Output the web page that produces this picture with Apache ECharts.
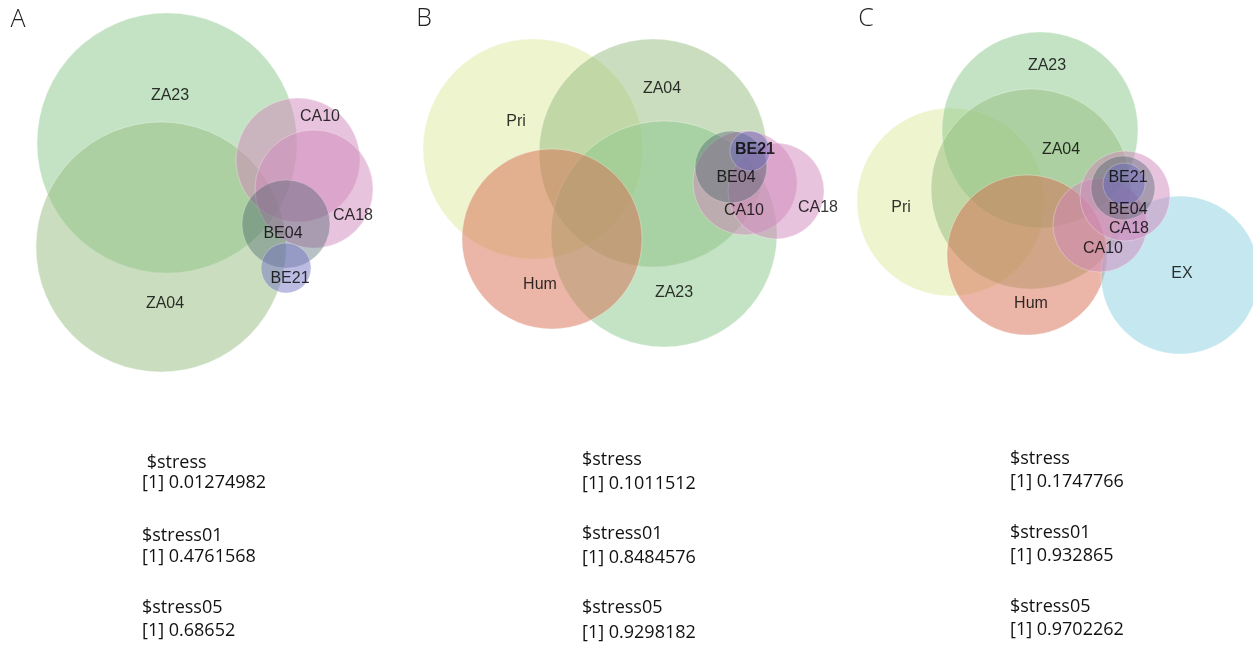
<!DOCTYPE html>
<html>
<head>
<meta charset="utf-8">
<script src="https://cdn.jsdelivr.net/npm/echarts@6/dist/echarts.min.js"></script>
<style>html,body{margin:0;padding:0;background:#fff;}#main{width:1253px;height:646px;}</style>
</head>
<body>
<div id="main"></div>
<script>
// Panel A circles (chart units = pixel grid of the figure)
const setsA = ['ZA23', 'ZA04', 'CA10', 'CA18', 'BE04', 'BE21'];
const cxA = [167, 161, 298, 314, 286, 286];
const cyA = [143, 247, 160, 189, 224, 268];
const rA = [130, 125, 62, 59, 44, 25];
const labXA = [170, 165, 320, 353, 283, 290];
const labYA = [96, 304, 117, 216, 234, 279];

// Panel B circles
const setsB = ['Pri', 'ZA04', 'ZA23', 'Hum', 'CA10', 'CA18', 'BE04', 'BE21'];
const cxB = [533, 653, 664, 552, 745, 776, 731, 750];
const cyB = [149, 153, 234, 239, 183, 191, 167, 151];
const rB = [110, 114, 113, 90, 52, 48, 36, 20];
const labXB = [516, 662, 674, 540, 744, 818, 736, 755];
const labYB = [122, 89, 293, 285, 211, 208, 178, 150];

// Panel C circles
const setsC = ['Pri', 'ZA23', 'ZA04', 'Hum', 'EX', 'CA10', 'CA18', 'BE04', 'BE21'];
const cxC = [951, 1040, 1031, 1027, 1180, 1100, 1125, 1123, 1124];
const cyC = [202, 130, 189, 255, 275, 225, 196, 188, 184];
const rC = [94, 98, 100, 80, 79, 47, 45, 32, 21];
const labXC = [901, 1047, 1061, 1031, 1182, 1103, 1129, 1128, 1128];
const labYC = [208, 66, 150, 304, 274, 249, 229, 210, 178];

// Panel titles
const panelNames = ['A', 'B', 'C'];
const panelX = [18, 424, 866];
const panelY = [20, 19, 19];

// Stress output text
const stressLines = [
  [' $stress', '[1] 0.01274982', '$stress01', '[1] 0.4761568', '$stress05', '[1] 0.68652'],
  ['$stress', '[1] 0.1011512', '$stress01', '[1] 0.8484576', '$stress05', '[1] 0.9298182'],
  ['$stress', '[1] 0.1747766', '$stress01', '[1] 0.932865', '$stress05', '[1] 0.9702262']
];
const stressX = [142, 582, 1010];
const stressY = [[463, 483, 536, 557, 608, 631], [460, 484, 534, 558, 608, 633], [459, 482, 533, 556, 607, 630]];

const colorOf = {
  ZA23: '#8ac78a',
  ZA04: '#96be80',
  CA10: '#d187bb',
  CA18: '#d187bb',
  BE04: '#3a5560',
  BE21: '#6a6ac0',
  Pri: '#dde99b',
  Hum: '#d86e52',
  EX: '#8ad0e2'
};
const opacityOf = { BE04: 0.36, BE21: 0.45 };

function buildCircles(sets, cx, cy, r) {
  return sets.map((s, i) => ({ name: s, value: [cx[i], cy[i], r[i]] }));
}
function buildLabels(sets, lx, ly, boldSet) {
  return sets.map((s, i) => {
    const d = { name: s, value: [lx[i], ly[i]] };
    if (s === boldSet) d.label = { fontWeight: 'bold' };
    return d;
  });
}

const allCircles = [].concat(
  buildCircles(setsA, cxA, cyA, rA),
  buildCircles(setsB, cxB, cyB, rB),
  buildCircles(setsC, cxC, cyC, rC)
);
const allLabels = [].concat(
  buildLabels(setsA, labXA, labYA),
  buildLabels(setsB, labXB, labYB, 'BE21'),
  buildLabels(setsC, labXC, labYC)
);

const graphics = [];
panelNames.forEach((p, i) => {
  graphics.push({
    type: 'text', x: panelX[i], y: panelY[i],
    style: { text: p, font: '300 25px "Open Sans"', fill: '#222', textAlign: 'center', textVerticalAlign: 'middle' }
  });
});
stressLines.forEach((lines, i) => {
  lines.forEach((t, j) => {
    graphics.push({
      type: 'text', x: stressX[i], y: stressY[i][j],
      style: { text: t, font: '18px "Open Sans"', fill: '#111', textAlign: 'left', textVerticalAlign: 'middle' }
    });
  });
});

const chart = echarts.init(document.getElementById('main'));
chart.setOption({
  animation: false,
  grid: { left: 0, right: 0, top: 0, bottom: 0 },
  xAxis: { type: 'value', min: 0, max: 1253, show: false },
  yAxis: { type: 'value', min: 0, max: 646, inverse: true, show: false },
  graphic: graphics,
  series: [
    {
      type: 'custom',
      coordinateSystem: 'cartesian2d',
      data: allCircles,
      clip: false,
      renderItem: function (params, api) {
        const c = api.coord([api.value(0), api.value(1)]);
        const rr = api.size([api.value(2), 0])[0];
        const name = allCircles[params.dataIndex].name;
        return {
          type: 'circle',
          shape: { cx: c[0], cy: c[1], r: rr },
          style: {
            fill: colorOf[name],
            opacity: opacityOf[name] || 0.5,
            stroke: 'rgba(255,255,255,0.6)',
            lineWidth: 1
          }
        };
      }
    },
    {
      type: 'scatter',
      data: allLabels,
      symbolSize: 0,
      silent: true,
      label: {
        show: true,
        position: 'inside',
        formatter: function (p) { return p.name; },
        fontFamily: 'Liberation Sans',
        fontSize: 16,
        color: '#000'
      }
    }
  ]
});
</script>
</body>
</html>
